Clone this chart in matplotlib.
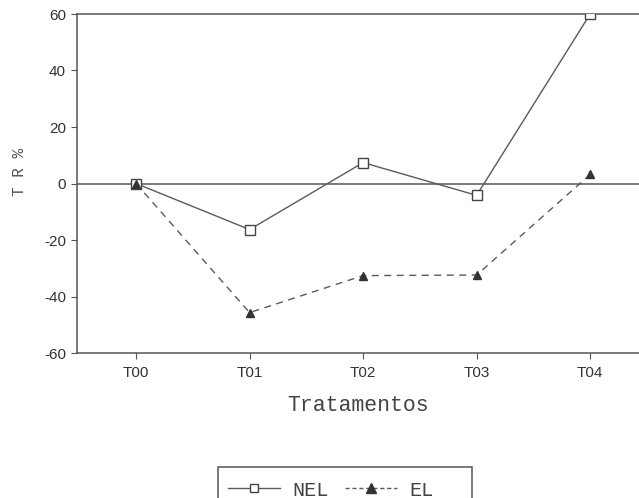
import matplotlib
matplotlib.use("Agg")
import matplotlib.pyplot as plt
from matplotlib.lines import Line2D
from matplotlib.patches import Rectangle

plt.rcParams["axes.unicode_minus"] = False

categories = ["T00", "T01", "T02", "T03", "T04"]
nel = [0, -16.3, 7.4, -4.2, 60]
el = [0, -45.7, -32.6, -32.4, 3.2]

W, H = 639, 498
fig = plt.figure(figsize=(W / 100, H / 100), dpi=100)
fig.patch.set_facecolor("white")
ax = fig.add_axes([77 / W, 1 - 353 / H, 1 - 77 / W, (353 - 14) / H])

col = "#5a5a5a"
x = list(range(len(categories)))
ax.plot(x, nel, color=col, lw=1.0, marker="s", markersize=6.5,
        markerfacecolor="white", markeredgecolor="#444444", markeredgewidth=1.0, zorder=3)
ax.plot(x, el, color=col, lw=1.0, ls=(0, (5, 4)), marker="^", markersize=6,
        markerfacecolor="#333333", markeredgecolor="#333333", zorder=3)

ax.axhline(0, color="#555555", lw=1.1, zorder=2)
ax.set_xlim(-0.52, 4.43)
ax.set_ylim(-60, 60)
ax.set_yticks([-60, -40, -20, 0, 20, 40, 60])
ax.set_xticks(x)
ax.set_xticklabels(categories)

ax.spines["right"].set_visible(False)
for s in ["left", "top", "bottom"]:
    ax.spines[s].set_color("#555555")
    ax.spines[s].set_linewidth(1.1)

ax.tick_params(axis="both", direction="out", length=4, width=0.8, color="#555555",
               labelsize=11, labelcolor="#333333")
ax.tick_params(axis="x", pad=5)
ax.tick_params(axis="y", pad=4)
for lbl in ax.get_xticklabels() + ax.get_yticklabels():
    lbl.set_family("Liberation Sans")

ax.set_xlabel("Tratamentos", family="Liberation Mono", fontsize=15.5, color="#444444", labelpad=11)
fig.text(20 / W, 1 - 172 / H, "T R %", rotation=90, family="Liberation Mono",
         fontsize=11.5, color="#555555", ha="center", va="center")

# legend box
fig.patches.append(Rectangle((218 / W, 1 - 520 / H), (472 - 218) / W, (520 - 467) / H,
                             transform=fig.transFigure, fill=False, edgecolor="#555555",
                             lw=1.1, zorder=5))
h1 = Line2D([], [], color=col, lw=1.0, marker="s", markersize=6,
            markerfacecolor="white", markeredgecolor="#444444")
h2 = Line2D([], [], color=col, lw=1.0, ls=(0, (3, 2)), marker="^", markersize=7,
            markerfacecolor="#333333", markeredgecolor="#333333")
leg = fig.legend([h1, h2], ["NEL", "EL"], loc="center left",
                 bbox_to_anchor=(210 / W, 1 - 490 / H), ncol=2, frameon=False,
                 prop={"family": "Liberation Mono", "size": 14.5}, handlelength=2.6,
                 handletextpad=0.6, columnspacing=0.8, borderpad=0.4)
for t in leg.get_texts():
    t.set_color("#444444")

fig.savefig("out.png", dpi=100, facecolor="white")
